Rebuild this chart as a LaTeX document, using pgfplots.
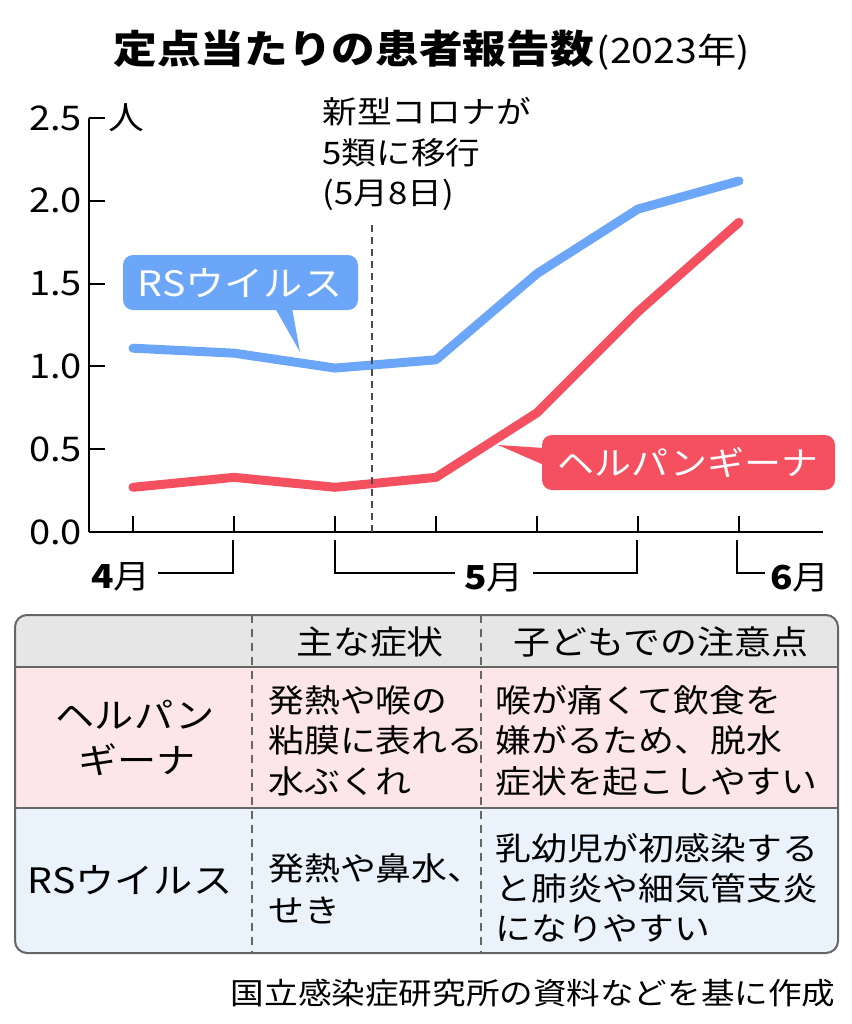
\documentclass[border=0pt]{standalone}
\usepackage{fontspec}
\setmainfont[FakeStretch=1.12]{Noto Sans CJK JP}
\usepackage{pgfplots}
\pgfplotsset{compat=1.18}
\definecolor{rsblue}{HTML}{6CA6F8}
\definecolor{hred}{HTML}{F5505F}
\definecolor{hdrgray}{HTML}{E6E6E6}
\definecolor{pinkrow}{HTML}{FDE6EA}
\definecolor{bluerow}{HTML}{EAF2FC}
\definecolor{rulegray}{HTML}{666666}
\begin{document}
\begin{tikzpicture}
% chart: picture is 852x1024 px, 1px = 0.5pt, origin top left
\begin{axis}[
    at={(44.5pt,-266pt)}, anchor=south west,
    scale only axis, width=367pt, height=207pt,
    xmin=-0.4356, xmax=6.832, ymin=0, ymax=2.5,
    axis lines*=left,
    axis line style={line width=1pt, black},
    xtick={0,1,2,3,4,5,6}, xticklabels={},
    ytick={0,0.5,1,1.5,2,2.5},
    tick align=inside,
    major tick length=8pt,
    every tick/.style={black, line width=1pt},
    yticklabel style={font=\fontsize{17}{20}\selectfont},
    /pgf/number format/fixed,
    /pgf/number format/fixed zerofill,
    /pgf/number format/precision=1,
    /pgf/number format/assume math mode=true,
    clip=false,
]
\addplot[rsblue, line width=4.5pt, line cap=round, line join=round] coordinates {
    (0,1.11) (1,1.08) (2,0.99) (3,1.04) (4,1.56) (5,1.95) (6,2.12)
};
\addplot[hred, line width=4.5pt, line cap=round, line join=round] coordinates {
    (0,0.27) (1,0.33) (2,0.27) (3,0.33) (4,0.72) (5,1.33) (6,1.87)
};
\draw[black!70, line width=0.8pt, dash pattern=on 3.5pt off 2.5pt]
    (axis cs:2.366,0) -- (axis cs:2.366,1.87);
\end{axis}

\begin{scope}[x=0.5pt, y=-0.5pt]
\path[use as bounding box] (0,0) rectangle (852,1024);

% title
\node[anchor=west, inner sep=0] at (113,50)
    {\fontsize{19.5}{24}\selectfont\bfseries 定点当たりの患者報告数\mdseries\fontsize{17.5}{20}\selectfont\kern1.5pt(2023年)};

% unit and annotation
\node[inner sep=0] at (126,118) {\fontsize{16}{20}\selectfont 人};
\node[anchor=west, inner sep=0] at (322,112) {\fontsize{15.5}{20}\selectfont 新型コロナが};
\node[anchor=west, inner sep=0] at (322,153) {\fontsize{15.5}{20}\selectfont 5類に移行};
\node[anchor=west, inner sep=0] at (322,195) {\fontsize{15.5}{20}\selectfont (5月8日)};

% month brackets
\draw[line width=1pt] (158,573) -- (233,573) -- (233,540);
\draw[line width=1pt] (335,540) -- (335,573) -- (455,573);
\draw[line width=1pt] (533,573) -- (637,573) -- (637,540);
\draw[line width=1pt] (737,540) -- (737,573) -- (765,573);
\node[inner sep=0] at (121,577) {\fontsize{16.5}{20}\selectfont\textbf{4}月};
\node[inner sep=0] at (494,578) {\fontsize{16.5}{20}\selectfont\textbf{5}月};
\node[inner sep=0] at (800,578) {\fontsize{16.5}{20}\selectfont\textbf{6}月};

% callouts
\fill[rsblue, rounded corners=5pt] (123,255) rectangle (358,310);
\fill[rsblue] (275,308) -- (292,308) -- (300,352) -- cycle;
\node[white, inner sep=0] at (240,283) {\fontsize{17.5}{20}\selectfont RSウイルス};
\fill[hred, rounded corners=5pt] (542,435) rectangle (835,490);
\fill[hred] (544,448) -- (544,465) -- (498,445) -- cycle;
\node[white, inner sep=0] at (688,462) {\fontsize{16.5}{20}\selectfont ヘルパンギーナ};

% table
\begin{scope}
\clip[rounded corners=6pt] (15,615) rectangle (838,953);
\fill[hdrgray] (15,615) rectangle (838,667);
\fill[pinkrow] (15,667) rectangle (838,808);
\fill[bluerow] (15,808) rectangle (838,953);
\end{scope}
\draw[rulegray, line width=1pt] (15,667) -- (838,667);
\draw[rulegray, line width=1pt] (15,808) -- (838,808);
\draw[rulegray, line width=0.7pt, dash pattern=on 4pt off 3pt] (252,615) -- (252,953);
\draw[rulegray, line width=0.7pt, dash pattern=on 4pt off 3pt] (481,615) -- (481,953);
\draw[rulegray, line width=1pt, rounded corners=6pt] (15,615) rectangle (838,953);

\node[inner sep=0] at (370,642) {\fontsize{16.5}{20}\selectfont 主な症状};
\node[inner sep=0] at (661,642) {\fontsize{16.5}{20}\selectfont 子どもでの注意点};

\node[inner sep=0] at (135,715) {\fontsize{17.5}{20}\selectfont ヘルパン};
\node[inner sep=0] at (137,760) {\fontsize{17.5}{20}\selectfont ギーナ};
\node[inner sep=0] at (130,880) {\fontsize{17.5}{20}\selectfont RSウイルス};

\node[anchor=west, inner sep=0] at (268,700) {\fontsize{16}{20}\selectfont 発熱や喉の};
\node[anchor=west, inner sep=0] at (268,740) {\fontsize{16}{20}\selectfont 粘膜に表れる};
\node[anchor=west, inner sep=0] at (268,781) {\fontsize{16}{20}\selectfont 水ぶくれ};
\node[anchor=west, inner sep=0] at (495,700) {\fontsize{16}{20}\selectfont 喉が痛くて飲食を};
\node[anchor=west, inner sep=0] at (495,740) {\fontsize{16}{20}\selectfont 嫌がるため、脱水};
\node[anchor=west, inner sep=0] at (495,781) {\fontsize{16}{20}\selectfont 症状を起こしやすい};

\node[anchor=west, inner sep=0] at (268,868) {\fontsize{16}{20}\selectfont 発熱や鼻水、};
\node[anchor=west, inner sep=0] at (268,910) {\fontsize{16}{20}\selectfont せき};
\node[anchor=west, inner sep=0] at (495,848) {\fontsize{16}{20}\selectfont 乳幼児が初感染する};
\node[anchor=west, inner sep=0] at (495,888) {\fontsize{16}{20}\selectfont と肺炎や細気管支炎};
\node[anchor=west, inner sep=0] at (495,928) {\fontsize{16}{20}\selectfont になりやすい};

% source
\node[anchor=east, inner sep=0] at (836,993) {\fontsize{15}{20}\selectfont 国立感染症研究所の資料などを基に作成};
\end{scope}
\end{tikzpicture}
\end{document}
